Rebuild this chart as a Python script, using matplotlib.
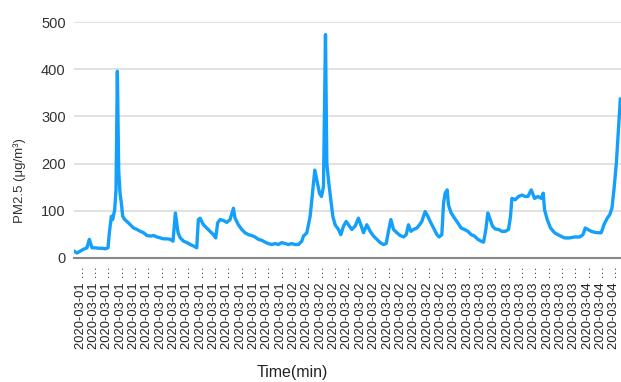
import matplotlib.pyplot as plt

plt.rcParams['font.family'] = ['Liberation Sans', 'DejaVu Sans']

# sample index (minutes into the record) and PM2.5 readings
sample_idx = [0, 22, 47, 72, 97, 115, 135, 160, 185, 210, 235, 255, 265, 280, 290, 305, 315, 325,
              335, 345, 355, 365, 380, 397, 422, 447, 472, 497, 522, 547, 572, 597, 622, 647, 672,
              697, 722, 742, 760, 780, 797, 822, 847, 872, 895, 920, 932, 945, 970, 995, 1020,
              1045, 1062, 1077, 1095, 1120, 1145, 1170, 1195, 1207, 1232, 1257, 1282, 1307, 1332,
              1357, 1382, 1407, 1432, 1457, 1482, 1507, 1532, 1557, 1582, 1607, 1632, 1657, 1682,
              1707, 1720, 1745, 1770, 1790, 1805, 1820, 1840, 1855, 1870, 1885, 1895, 1910, 1925,
              1940, 1957, 1982, 2000, 2020, 2040, 2057, 2082, 2107, 2132, 2150, 2170, 2195, 2220,
              2245, 2270, 2295, 2320, 2340, 2357, 2375, 2395, 2420, 2445, 2470, 2490, 2507, 2525,
              2545, 2570, 2590, 2607, 2632, 2652, 2670, 2695, 2720, 2737, 2757, 2770, 2782, 2797,
              2807, 2827, 2852, 2877, 2902, 2927, 2952, 2977, 3002, 3027, 3052, 3070, 3087, 3102,
              3120, 3137, 3157, 3182, 3207, 3232, 3257, 3272, 3282, 3307, 3332, 3357, 3382, 3402,
              3427, 3452, 3477, 3502, 3517, 3527, 3547, 3572, 3602, 3640, 3677, 3715, 3752, 3790,
              3815, 3832, 3852, 3877, 3902, 3927, 3952, 3972, 3997, 4015, 4032, 4047, 4065, 4095]
pm25 = [14, 10, 14, 18, 21, 39, 21, 21, 20, 20, 19, 21, 53, 88, 81, 102, 144, 396,
        186, 137, 116, 88, 81, 77, 70, 63, 60, 56, 53, 47, 46, 47, 44, 42, 40,
        40, 39, 35, 95, 53, 42, 35, 32, 28, 25, 21, 81, 84, 70, 63, 56,
        49, 42, 74, 81, 79, 75, 81, 105, 84, 70, 60, 53, 49, 47,
        44, 39, 37, 33, 30, 28, 30, 28, 32, 30, 28, 30, 28, 28,
        35, 46, 53, 88, 144, 186, 165, 137, 130, 151, 474, 200, 158, 123,
        88, 70, 60, 49, 67, 77, 70, 60, 67, 84, 70, 53, 70, 56,
        46, 39, 32, 28, 30, 56, 81, 60, 53, 47, 44, 49, 70, 56,
        60, 63, 70, 77, 98, 88, 77, 63, 49, 44, 49, 116, 137, 144,
        112, 95, 84, 74, 63, 60, 56, 49, 46, 39, 35, 33, 60, 95,
        81, 67, 61, 60, 56, 56, 60, 88, 126, 123, 130, 133, 130, 130,
        144, 126, 130, 126, 137, 102, 81, 63, 53, 47, 42, 42, 44, 44,
        49, 63, 60, 56, 54, 53, 53, 70, 84, 91, 105, 144, 200, 337]

tick_dates = ['2020-03-01'] * 16 + ['2020-03-02'] * 12 + ['2020-03-03'] * 10 + ['2020-03-04'] * 3
tick_step = 100

fig = plt.figure(figsize=(6.21, 3.82), dpi=100)
ax = fig.add_axes([74 / 621, 1 - 257.7 / 382, 547 / 621, 235.4 / 382])

ax.plot(sample_idx, pm25, color='#14a0fa', linewidth=2.4, solid_joinstyle='round')

ax.set_xlim(0, len(tick_dates) * tick_step)
ax.set_ylim(0, 500)
ax.set_yticks([0, 100, 200, 300, 400, 500])
ax.grid(axis='y', color='#dcdcdc', linewidth=1.2)
ax.set_axisbelow(True)

for side in ['top', 'right', 'left']:
    ax.spines[side].set_visible(False)
ax.spines['bottom'].set_color('#888888')
ax.spines['bottom'].set_linewidth(1.5)

ax.set_xticks([(i + 0.5) * tick_step for i in range(len(tick_dates))])
ax.set_xticklabels([d + ' \u2026' for d in tick_dates], rotation=90, fontsize=9.3, color='#222222')
ax.tick_params(axis='x', length=0, pad=6)
ax.tick_params(axis='y', length=0, pad=6, labelsize=10.5, labelcolor='#333333')

fig.text(20 / 621, 1 - 181 / 382, 'PM2.5 (μg/m³)', rotation=90, ha='center', va='center',
         fontsize=9.5, color='#333333')
fig.text(292 / 621, 1 - 372 / 382, 'Time(min)', ha='center', va='center', fontsize=11.5,
         color='#222222')

fig.savefig('out.png', dpi=100)
